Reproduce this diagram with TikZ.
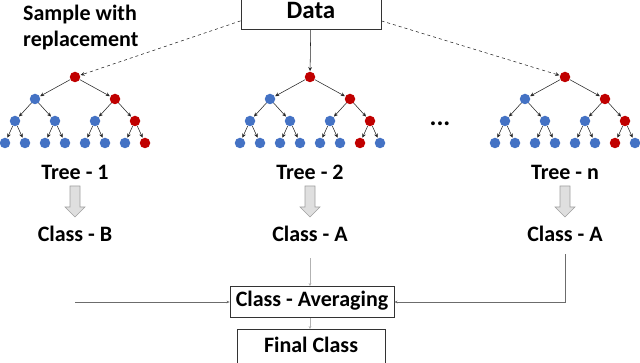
\documentclass[tikz,border=0pt]{standalone}
\usepackage{fontspec}
\setmainfont{Carlito}
\usetikzlibrary{arrows.meta,positioning}
\definecolor{leafblue}{RGB}{68,114,196}
\definecolor{pathred}{RGB}{192,0,0}

\begin{document}
\begin{tikzpicture}[x=1pt,y=-1pt,
    cool/.style={circle,fill=leafblue,inner sep=0pt,minimum size=10.5pt},
    hot/.style={cool,fill=pathred},
    link/.style={-{Stealth[length=4pt,width=3.8pt]},black!85,line width=0.55pt,shorten >=0.5pt},
    lbl/.style={font=\bfseries\fontsize{22}{26}\selectfont,text height=14pt,text depth=4.5pt,inner sep=0pt},
    box/.style={lbl,draw=black!80,line width=0.9pt},
    fat/.style={draw=gray!75,fill=gray!25,line width=0.6pt,line join=miter},
    feed/.style={-{Stealth[length=3pt,width=2.8pt]},gray!85!black,line width=0.6pt}]
  \useasboundingbox (0,0) rectangle (640,363);
  \clip (0,0) rectangle (640,363);

  % top box and note
  \node[box,font=\bfseries\fontsize{25}{30}\selectfont,text height=16pt,text depth=0pt,
    minimum width=140pt,minimum height=37pt] (data) at (311,11) {Data};
  \node[font=\bfseries\fontsize{22}{26}\selectfont,align=left,anchor=north west,inner sep=0pt]
    (samp) at (23,5) {Sample with\\replacement};

  % trees
  \foreach \t/\cx/\rl in {1/75/7,2/310/6,n/565/6}{
    \node[hot] (\t-0) at (\cx,77) {};
    \foreach \i in {0,1}{
      \ifnum\i=1 \def\col{hot}\else\def\col{cool}\fi
      \node[\col] (\t-1\i) at (\cx-40+80*\i,99) {};
      \draw[link] (\t-0) -- (\t-1\i);
      \foreach \j in {0,1}{
        \pgfmathtruncatemacro\k{2*\i+\j}
        \ifnum\k=3 \def\col{hot}\else\def\col{cool}\fi
        \node[\col] (\t-2\k) at (\cx-60+40*\k,121) {};
        \draw[link] (\t-1\i) -- (\t-2\k);
        \foreach \m in {0,1}{
          \pgfmathtruncatemacro\q{2*\k+\m}
          \ifnum\q=\rl \def\col{hot}\else\def\col{cool}\fi
          \node[\col] (\t-3\q) at (\cx-70+20*\q,143) {};
          \draw[link] (\t-2\k) -- (\t-3\q);
        }
      }
    }
  }
  \node[font=\bfseries\fontsize{26}{30}\selectfont] (dots) at (440,124) {...};

  \draw[link,dashed] (data.188) -- (1-0);
  \draw[link,dashed] (data.-8) -- (n-0);
  \draw[link] (data) -- (2-0);

  % votes
  \foreach \t/\cx/\cl in {1/75/B,2/310/A,n/565/A}{
    \node[lbl] (t\t) at (\cx,175) {Tree - \t};
    \node[lbl] (c\t) at (\cx,237) {Class - \cl};
    \draw[fat] (\cx-5,186) -- ++(10,0) -- ++(0,21) -- ++(5,0) -- ++(-10,10)
      -- ++(-10,-10) -- ++(5,0) -- cycle;
  }

  \node[box,minimum width=164pt,minimum height=31pt] (avg) at (312,302) {Class - Averaging};
  \node[box,minimum width=148pt,minimum height=37pt] (fin) at (311,348) {Final Class};

  \coordinate (in1) at (c1 |- avg);
  \draw[feed,gray!60,shorten <=12pt] (c2) -- (c2 |- avg.north);
  \draw[feed] (in1) -- (avg);
  \draw[feed,shorten <=8pt] (cn) |- (avg);
  \draw[feed,gray!60] (avg.south -| c2) -- (fin.north -| c2);
\end{tikzpicture}
\end{document}
